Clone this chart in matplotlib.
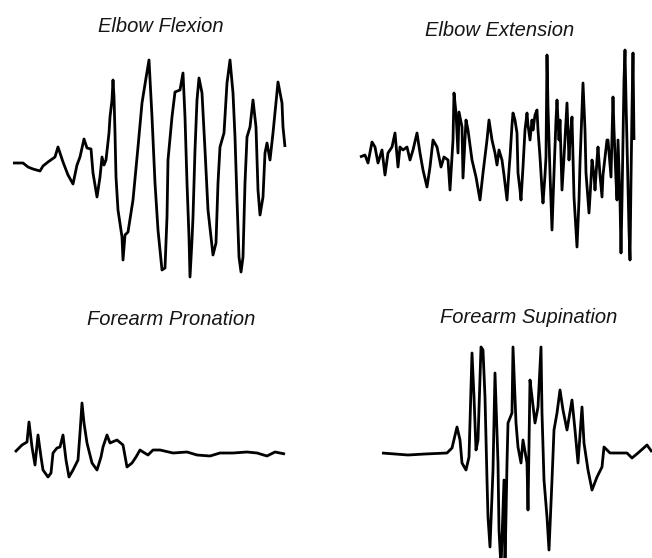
import matplotlib
matplotlib.use("Agg")
import matplotlib.pyplot as plt

W, H = 652, 558

# EMG traces: time (samples) and amplitude (arbitrary units, 0 = resting level)
flex_t = [0, 10, 15, 20, 27, 30, 35, 42, 45, 50, 55, 60, 64, 67, 71, 74, 78, 80, 84, 87,
          89, 91, 93, 96, 97, 99, 100, 101, 102, 103, 105, 109, 110, 112, 115, 120, 125, 129,
          133, 136, 139, 142, 145, 149, 152, 154, 155, 159, 162, 167, 170, 172, 174, 176, 177,
          179, 180, 182, 184, 186, 189, 192, 195, 198, 200, 203, 205, 207, 211, 214, 217, 220,
          222, 224, 226, 228, 230, 232, 234, 237, 240, 243, 245, 247, 250, 252, 254, 257, 260,
          265, 269, 270, 272]
flex_a = [0, 0, -4, -6, -8, -3, 1, 6, 16, 1, -12, -21, -2, 6, 24, 15, 14, -10, -34, -14,
          6, -2, 3, 30, 46, 63, 83, 66, 30, -14, -47, -74, -97, -72, -69, -37, 16, 60,
          85, 103, 46, -20, -67, -107, -105, -54, 3, 46, 71, 73, 90, 46, -20, -74, -114,
          -77, -54, 13, 63, 85, 70, 13, -47, -74, -92, -80, -20, 16, 30, 80, 103, 70,
          26, -37, -94, -109, -94, -20, 26, 36, 63, 36, -27, -52, -34, 10, 20, 3, 30,
          81, 60, 36, 16]

ext_t = [0, 5, 8, 12, 15, 18, 22, 25, 28, 32, 35, 38, 40, 43, 47, 50, 53, 57, 60, 63,
         67, 70, 73, 77, 81, 84, 88, 90, 93, 94, 96, 98, 99, 102, 103, 106, 108, 112, 116,
         120, 123, 127, 129, 132,
         135, 137, 139, 142, 144, 147, 149, 150, 152, 153, 155, 157, 158, 160, 161,
         163, 165, 167, 168, 170, 172, 173, 175, 177, 178, 180, 182, 183, 185, 186,
         187, 188, 189, 190, 192, 193, 194, 196, 197, 199, 200, 202, 204, 206, 207,
         209, 210, 212, 214, 217, 219, 220, 222, 223, 225, 226, 228, 229, 231, 232,
         234, 235, 237, 238, 240, 242, 243, 245, 247, 248, 250, 251, 253, 254, 256,
         257, 258, 260, 261, 262, 263, 264, 265, 266, 268, 269, 270, 271, 272, 273, 274]
ext_a = [-2, 0, -8, 13, 8, -8, 5, -20, 2, 8, 22, -12, 8, 5, 8, -5, 5, 22, 2, -15,
         -32, -12, 15, 8, -12, -2, -5, -35, 15, 62, 42, 2, 43, 28, -23, 35, 25, -5, -22,
         -45, -18, 15, 35, 15,
         2, -10, 5, -5, -20, -45, -15, -2, 30, 42, 35, 22, -18, -35, -45,
         -12, 25, 42, 30, 15, 35, 25, 40, 45, 25, -2, -35, -48, -20, -2,
         100, 48, 15, -18, -75, -45, -18, 35, 55, 15, 35, -35, -2, 35, 52,
         -5, 15, 38, -42, -92, -45, -8, 45, 72, 25, -18, -45, -58, -25, -5,
         -20, -35, -5, 8, -20, -42, -20, -2, 15, 15, -10, -22, 58, 25, -25,
         -45, 15, -45, -98, -45, 15, 75, 105, 55, -35, -75, -105, -25, 45, 102, 15]

pron_t = [0, 7, 12, 14, 17, 20, 23, 26, 28, 33, 36, 38, 42, 45, 48, 51, 54, 58, 63, 65,
          67, 69, 72, 77, 82, 86, 88, 92, 95, 102, 108, 112, 117, 121, 125, 128, 133, 138,
          145, 158, 172, 182, 195, 205, 218, 232, 242, 252, 260, 270]
pron_a = [0, 7, 10, 30, 5, -13, 17, -5, -18, -25, -21, -1, 4, 5, 17, -8, -25, -18, -8, 19,
          49, 29, 9, -11, -18, -5, 5, 17, 9, 12, 7, -15, -11, -5, 2, 0, -3, 2,
          2, -1, 0, -3, -4, -1, -1, 0, -1, -4, 0, -2]

sup_t = [0, 13, 26, 43, 65, 70, 75, 78, 80, 84, 87, 90, 92, 94, 96, 99, 101, 103, 105,
         106, 108, 111, 113, 116, 117, 119, 122, 123, 125, 126, 130, 131, 134, 136, 139,
         141, 145, 146, 148, 150, 153, 156, 159, 160, 162, 165, 167, 170, 172, 175, 178,
         181, 185, 190, 193, 196, 200, 202, 206, 210, 215, 220, 222, 228, 236, 245, 250,
         256, 265, 270]
sup_a = [0, -1, -2, -1, 0, 5, 26, 13, -10, -17, -4, 100, 56, 3, 13, 106, 103, 56, -27,
         -64, -94, -17, 80, -10, -77, -115, -27, -115, -10, 30, 40, 106, 30, 6, -10,
         13, -10, -57, 73, 56, 30, 46, 106, 40, -27, -64, -97, -27, 23, 40, 63,
         43, 23, 53, 23, -10, 46, 10, -17, -37, -24, -14, 6, 0, 0, 0, -5,
         0, 8, 1]

titles = ["Elbow Flexion", "Elbow Extension", "Forearm Pronation", "Forearm Supination"]
series = [(flex_t, flex_a), (ext_t, ext_a), (pron_t, pron_a), (sup_t, sup_a)]

# panel anchors in pixels: trace start x, resting-level y, title centre x, title baseline y
anchors = [(13, 163, 161, 32), (360, 155, 500, 36), (15, 452, 171, 325), (382, 453, 529, 323)]

fig = plt.figure(figsize=(W / 100, H / 100), dpi=100)
fig.patch.set_facecolor("white")

for (t, a), title, (x0, yb, tx, ty) in zip(series, titles, anchors):
    ax = fig.add_axes([0, 0, 1, 1])
    ax.set_xlim(-x0, W - x0)
    ax.set_ylim(yb - H, yb)
    ax.axis("off")
    ax.patch.set_alpha(0)
    ax.plot(t, a, color="black", lw=2.0, solid_joinstyle="round", solid_capstyle="butt")
    fig.text(tx / W, 1 - ty / H, title, ha="center", va="baseline",
             fontsize=14.5, fontstyle="italic", family=["Liberation Sans", "DejaVu Sans"],
             color="#151515")

fig.savefig("out.png", dpi=100, facecolor="white")
